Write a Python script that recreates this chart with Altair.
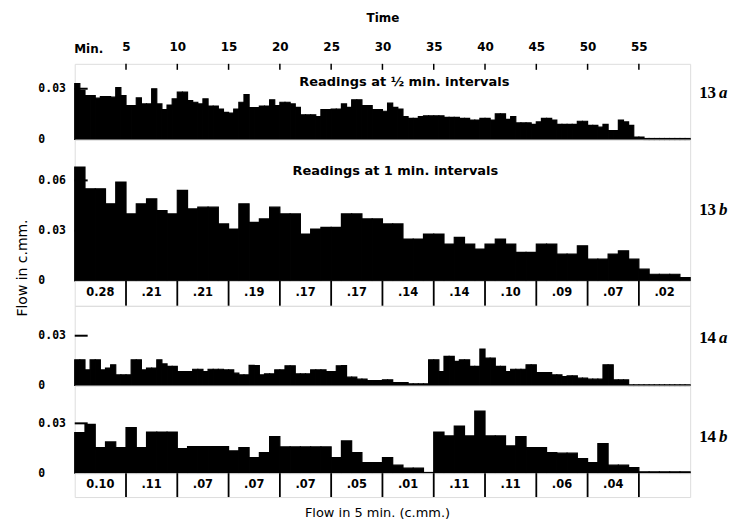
import altair as alt
import pandas as pd

# ---------------- data ----------------
time_ticks = [5, 10, 15, 20, 25, 30, 35, 40, 45, 50, 55]

# 13a: readings at 1/2 min intervals (c.mm. per half minute)
flow_13a = [
    0.033, 0.029, 0.026, 0.026, 0.0244, 0.0254, 0.0254, 0.025, 0.0306, 0.026,
    0.020, 0.020, 0.0246, 0.021, 0.021, 0.030, 0.021, 0.0177, 0.0204, 0.024,
    0.028, 0.028, 0.023, 0.022, 0.021, 0.024, 0.0198, 0.0198, 0.018, 0.016,
    0.0156, 0.018, 0.022, 0.0265, 0.0188, 0.0188, 0.0198, 0.0198, 0.0235, 0.020,
    0.022, 0.022, 0.021, 0.019, 0.0146, 0.0146, 0.0146, 0.0135, 0.0177, 0.0177,
    0.018, 0.018, 0.021, 0.019, 0.0235, 0.0235, 0.020, 0.020, 0.0177, 0.0177,
    0.0167, 0.0215, 0.019, 0.018, 0.0135, 0.0125, 0.0125, 0.0135, 0.014, 0.014,
    0.014, 0.014, 0.0131, 0.0131, 0.0131, 0.0125, 0.0125, 0.0115, 0.0115, 0.0125,
    0.0125, 0.0115, 0.0152, 0.0152, 0.0119, 0.0135, 0.0098, 0.0098, 0.0098, 0.009,
    0.0104, 0.0125, 0.0125, 0.0115, 0.009, 0.009, 0.009, 0.009, 0.0108, 0.0108,
    0.0083, 0.0083, 0.0073, 0.009, 0.0052, 0.0052, 0.0115, 0.0104, 0.0083, 0.0015,
    0.0015, 0.0006, 0.0006, 0.0006, 0.0006, 0.0006, 0.0006, 0.0006, 0.0006, 0.0006,
]

# 13b: readings at 1 min intervals
flow_13b = [
    0.068, 0.055, 0.055, 0.046, 0.059, 0.040, 0.046, 0.049, 0.042, 0.040,
    0.054, 0.043, 0.044, 0.044, 0.034, 0.031, 0.046, 0.035, 0.037, 0.044,
    0.040, 0.040, 0.028, 0.031, 0.032, 0.032, 0.040, 0.040, 0.037, 0.037,
    0.034, 0.034, 0.025, 0.025, 0.028, 0.028, 0.022, 0.026, 0.022, 0.019,
    0.022, 0.025, 0.022, 0.017, 0.017, 0.022, 0.022, 0.016, 0.016, 0.021,
    0.013, 0.013, 0.016, 0.018, 0.013, 0.007, 0.004, 0.004, 0.004, 0.002,
]

# 14a: readings at 1/2 min intervals
flow_14a = [
    0.0155, 0.0155, 0.0094, 0.0155, 0.0155, 0.0094, 0.0105, 0.0125, 0.0064, 0.0064,
    0.0064, 0.0155, 0.0155, 0.0094, 0.0105, 0.0105, 0.0155, 0.013, 0.0115, 0.0115,
    0.0084, 0.0084, 0.0084, 0.0098, 0.0098, 0.0084, 0.0098, 0.0098, 0.0098, 0.0094,
    0.0094, 0.0074, 0.0064, 0.0064, 0.0121, 0.012, 0.0064, 0.007, 0.007, 0.0094,
    0.0094, 0.0119, 0.0119, 0.007, 0.007, 0.007, 0.0094, 0.0094, 0.0094, 0.0084,
    0.0084, 0.0119, 0.012, 0.005, 0.005, 0.0038, 0.0038, 0.003, 0.003, 0.003,
    0.0034, 0.0034, 0.0018, 0.0018, 0.0018, 0.001, 0.001, 0.001, 0.001, 0.0155,
    0.0155, 0.0084, 0.0175, 0.0175, 0.0145, 0.0155, 0.0155, 0.0115, 0.0115, 0.022,
    0.0165, 0.0165, 0.0115, 0.0115, 0.0084, 0.0098, 0.0098, 0.0098, 0.0125, 0.0125,
    0.0078, 0.0078, 0.0078, 0.0064, 0.0064, 0.0054, 0.0058, 0.0058, 0.0044, 0.0044,
    0.0038, 0.0038, 0.0038, 0.0125, 0.0125, 0.0034, 0.0034, 0.0034, 0.0004, 0.0004,
    0.0004, 0.0004, 0.0004, 0.0004, 0.0004, 0.0004, 0.0004, 0.0004, 0.0004, 0.0004,
]

# 14b: readings at 1 min intervals
flow_14b = [
    0.0244, 0.0294, 0.0154, 0.0188, 0.0154, 0.0274, 0.0154, 0.0248, 0.0248, 0.0248,
    0.0148, 0.016, 0.016, 0.016, 0.016, 0.0134, 0.0154, 0.0094, 0.0124, 0.022,
    0.0158, 0.0158, 0.0158, 0.0158, 0.0158, 0.0094, 0.0194, 0.0124, 0.0064, 0.0064,
    0.0094, 0.0048, 0.003, 0.003, 0.0004, 0.0248, 0.0224, 0.0284, 0.0224, 0.0374,
    0.0224, 0.0224, 0.0164, 0.022, 0.0154, 0.0154, 0.0124, 0.012, 0.012, 0.0088,
    0.0064, 0.0178, 0.0048, 0.0048, 0.0034, 0.0008, 0.0008, 0.0008, 0.0008, 0.0008,
]

# flow in 5 min (c.mm.)
totals_13 = ["0.28", ".21", ".21", ".19", ".17", ".17", ".14", ".14", ".10", ".09", ".07", ".02"]
totals_14 = ["0.10", ".11", ".07", ".07", ".07", ".05", ".01", ".11", ".11", ".06", ".04", ""]

# ---------------- chart ----------------
W = 618
XS = alt.Scale(domain=[0, 60], nice=False, zero=False)
FONT = "DejaVu Sans"
MONO = "DejaVu Sans Mono"
SERIF = "Liberation Serif"


def bars_df(values, step):
    n = len(values)
    return pd.DataFrame({
        "start": [i * step for i in range(n)],
        "end": [(i + 1) * step for i in range(n)],
        "flow": values,
        "base": [0.0] * n,
    })


def panel(values, step, height, ymax, yticks, num, let, label_y,
          note=None, note_x=0, note_y=0, top=False, side_text=None):
    ys = alt.Scale(domain=[0, ymax], nice=False, zero=True)
    yaxis = alt.Axis(values=yticks, ticks=False, domain=False, grid=False,
                     labelAlign="left", labelBaseline="middle", labelPadding=37,
                     labelFont=MONO, labelFontSize=11.5, labelFontWeight="bold",
                     labelColor="black",
                     labelExpr="datum.value == 0 ? '0' : format(datum.value, '.2f')",
                     title=None)
    if top:
        xaxis = alt.Axis(orient="top", values=time_ticks, ticks=False, domain=False,
                         grid=False, labelFont=FONT, labelFontSize=12,
                         labelFontWeight="bold", labelColor="black", labelPadding=10,
                         title="Time", titleFont=FONT, titleFontSize=12,
                         titleFontWeight="bold", titleColor="black", titlePadding=17)
    else:
        xaxis = None
    layers = []
    layers.append(
        alt.Chart(bars_df(values, step)).mark_rect(
            color="black", stroke="black", strokeWidth=1.2
        ).encode(
            x=alt.X("start:Q", scale=XS, axis=xaxis),
            x2="end:Q",
            y=alt.Y("flow:Q", scale=ys, axis=yaxis),
            y2="base:Q",
        )
    )
    # inward y ticks
    layers.append(
        alt.Chart(pd.DataFrame({"flow": [t for t in yticks if t > 0]})).mark_rule(
            color="black", strokeWidth=2
        ).encode(
            y=alt.Y("flow:Q", scale=ys, axis=yaxis),
            x=alt.value(0), x2=alt.value(13),
        )
    )
    if top:
        layers.append(
            alt.Chart(pd.DataFrame({"start": time_ticks})).mark_rule(
                color="black", strokeWidth=1.5
            ).encode(
                x=alt.X("start:Q", scale=XS, axis=xaxis),
                y=alt.value(0), y2=alt.value(6),
            )
        )
        layers.append(
            alt.Chart(pd.DataFrame({"s": ["Min."]})).mark_text(
                font=FONT, fontSize=12, fontWeight="bold", color="black",
                align="center", baseline="alphabetic"
            ).encode(text="s:N", x=alt.value(14), y=alt.value(-11))
        )
    if note:
        layers.append(
            alt.Chart(pd.DataFrame({"s": [note]})).mark_text(
                font=FONT, fontSize=13, fontWeight="bold", color="black",
                align="center", baseline="middle"
            ).encode(text="s:N", x=alt.value(note_x), y=alt.value(note_y))
        )
    if side_text:
        layers.append(
            alt.Chart(pd.DataFrame({"s": [side_text]})).mark_text(
                font=FONT, fontSize=14, color="black", angle=270,
                align="center", baseline="middle"
            ).encode(text="s:N", x=alt.value(-52), y=alt.value(129))
        )
    layers.append(
        alt.Chart(pd.DataFrame({"s": [num]})).mark_text(
            font=SERIF, fontSize=17, fontWeight="bold", color="black",
            align="left", baseline="middle"
        ).encode(text="s:N", x=alt.value(W + 9), y=alt.value(label_y))
    )
    layers.append(
        alt.Chart(pd.DataFrame({"s": [let]})).mark_text(
            font=SERIF, fontSize=17, fontWeight="bold", fontStyle="italic", color="black",
            align="left", baseline="middle"
        ).encode(text="s:N", x=alt.value(W + 29), y=alt.value(label_y))
    )
    return alt.layer(*layers).properties(width=W, height=height)


def table(labels, height, footer=None):
    df = pd.DataFrame({
        "start": [5 * i for i in range(len(labels))],
        "end": [5 * (i + 1) for i in range(len(labels))],
        "label": labels,
    })
    base = alt.Chart(df)
    text = base.mark_text(font=FONT, fontSize=11.5, fontWeight="bold", color="black",
                          baseline="middle").encode(
        x=alt.X("mid:Q", scale=XS, axis=None),
        y=alt.value(height / 2),
        text="label:N",
    ).transform_calculate(mid="(datum.start + datum.end) / 2")
    dividers = base.transform_filter("datum.start > 0").mark_rule(
        color="black", strokeWidth=1.8
    ).encode(
        x=alt.X("start:Q", scale=XS, axis=None),
        y=alt.value(0), y2=alt.value(height),
    )
    layers = [dividers, text]
    if footer:
        layers.append(
            alt.Chart(pd.DataFrame({"s": [footer]})).mark_text(
                font=FONT, fontSize=13, color="black", align="center", baseline="middle"
            ).encode(text="s:N", x=alt.value(W / 2 - 5), y=alt.value(height + 16))
        )
    return alt.layer(*layers).properties(width=W, height=height)


p13a = panel(flow_13a, 0.5, 76, 0.0447, [0, 0.03], "13", "a", 29,
             note="Readings at \u00bd min. intervals", note_x=331, note_y=18, top=True)
p13b = panel(flow_13b, 1.0, 142, 0.0844, [0, 0.03, 0.06], "13", "b", 71,
             note="Readings at 1 min. intervals", note_x=322, note_y=32,
             side_text="Flow in c.mm.")
t13 = table(totals_13, 25)
p14a = panel(flow_14a, 0.5, 80, 0.048, [0, 0.03], "14", "a", 32)
p14b = panel(flow_14b, 1.0, 88, 0.0528, [0, 0.03], "14", "b", 52)
t14 = table(totals_14, 24, footer="Flow in 5 min. (c.mm.)")

chart = alt.vconcat(p13a, p13b, t13, p14a, p14b, t14, spacing=0, bounds="flush").properties(
    padding={"left": 7, "top": 1, "right": 2, "bottom": 2}
).configure_view(
    stroke="black", strokeWidth=1.8
).configure(background="white")

chart.save("out.html", embed_options={"renderer": "svg", "actions": False})
